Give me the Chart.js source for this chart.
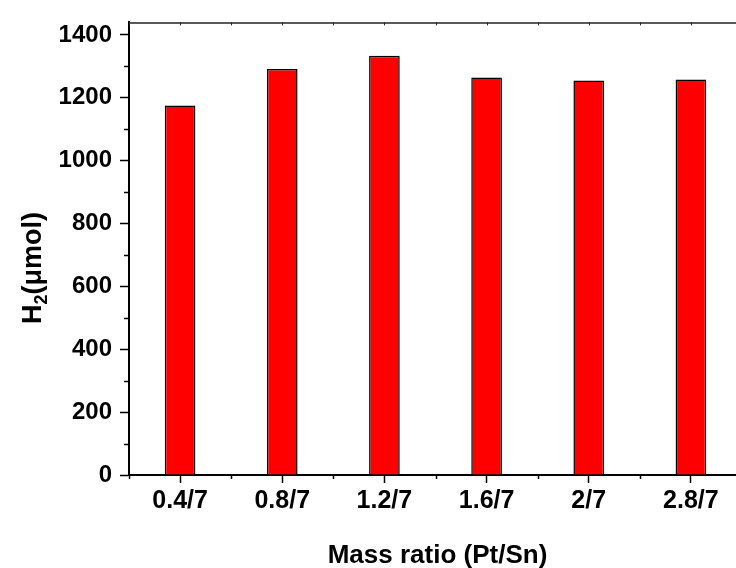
<!DOCTYPE html>
<html>
<head>
<meta charset="utf-8">
<script src="https://cdn.jsdelivr.net/npm/chart.js@4"></script>
<style>
  html, body { margin: 0; padding: 0; background: #fff; overflow: hidden; }
  #wrap { width: 746px; height: 568px; }
</style>
</head>
<body>
<div id="wrap"><canvas id="myChart" width="746" height="568"></canvas></div>
<script>
const ratios = ['0.4/7', '0.8/7', '1.2/7', '1.6/7', '2/7', '2.8/7'];
const h2 = [1176, 1292, 1334, 1265, 1255, 1258];
const yTicks = [0, 200, 400, 600, 800, 1000, 1200, 1400];
const yMinor = [100, 300, 500, 700, 900, 1100, 1300];
const yMax = 1440;

const fontFam = "'Liberation Sans', Arial, sans-serif";

// titles, minor ticks and the top frame line
const extras = {
  id: 'extras',
  afterDraw(chart) {
    const ctx = chart.ctx;
    const a = chart.chartArea;
    const x = chart.scales.x;
    const y = chart.scales.y;
    ctx.save();
    ctx.strokeStyle = '#000';
    ctx.lineWidth = 1.5;

    // minor y ticks
    yMinor.forEach(v => {
      const py = Math.round(y.getPixelForValue(v)) + 0.5;
      ctx.beginPath();
      ctx.moveTo(a.left - 5, py);
      ctx.lineTo(a.left, py);
      ctx.stroke();
    });

    // minor x ticks at category edges
    const half = (x.getPixelForValue(1) - x.getPixelForValue(0)) / 2;
    for (let i = 0; i <= ratios.length; i++) {
      const px = Math.round(x.getPixelForValue(i) - half) + 0.5;
      ctx.beginPath();
      ctx.moveTo(px, a.bottom);
      ctx.lineTo(px, a.bottom + 4);
      ctx.stroke();
    }

    // top line with small inward ticks
    ctx.strokeStyle = '#222';
    ctx.beginPath();
    ctx.moveTo(a.left, a.top + 0.5);
    ctx.lineTo(a.right, a.top + 0.5);
    ctx.stroke();
    ctx.lineWidth = 1;
    for (let i = 0; i < ratios.length; i++) {
      [x.getPixelForValue(i), x.getPixelForValue(i) - half].forEach(px => {
        ctx.beginPath();
        ctx.moveTo(Math.round(px) + 0.5, a.top);
        ctx.lineTo(Math.round(px) + 0.5, a.top + 3);
        ctx.stroke();
      });
    }

    // x title
    ctx.fillStyle = '#000';
    ctx.font = 'bold 26px ' + fontFam;
    ctx.textAlign = 'center';
    ctx.textBaseline = 'alphabetic';
    ctx.fillText('Mass ratio (Pt/Sn)', (a.left + a.right) / 2 + 2, 563);

    // y title with subscript
    ctx.translate(41, 268);
    ctx.rotate(-Math.PI / 2);
    const big = 'bold 27px ' + fontFam;
    const small = 'bold 18px ' + fontFam;
    ctx.font = big;
    const wH = ctx.measureText('H').width;
    const wRest = ctx.measureText('(\u03bcmol)').width;
    ctx.font = small;
    const w2 = ctx.measureText('2').width;
    let sx = -(wH + w2 + wRest) / 2;
    ctx.textAlign = 'left';
    ctx.font = big;
    ctx.fillText('H', sx, 0);
    sx += wH;
    ctx.font = small;
    ctx.fillText('2', sx, 6);
    sx += w2;
    ctx.font = big;
    ctx.fillText('(\u03bcmol)', sx, 0);
    ctx.restore();
  }
};

const ctx = document.getElementById('myChart').getContext('2d');
const myChart = new Chart(ctx, {
  type: 'bar',
  data: {
    labels: ratios,
    datasets: [{
      data: h2,
      backgroundColor: '#ff0000',
      borderColor: '#000',
      borderWidth: 1.5,
      borderSkipped: 'bottom',
      barPercentage: 0.3,
      categoryPercentage: 1
    }]
  },
  options: {
    responsive: false,
    animation: false,
    devicePixelRatio: 1,
    layout: { padding: { top: 20, right: 4, left: 0, bottom: 0 } },
    plugins: { legend: { display: false }, tooltip: { enabled: false } },
    scales: {
      x: {
        grid: { offset: false, drawOnChartArea: false, drawTicks: true, tickLength: 8, color: '#000', tickWidth: 1.5 },
        border: { color: '#000', width: 2 },
        ticks: { color: '#000', padding: 3, font: { family: fontFam, size: 25, weight: 'bold' }, maxRotation: 0 },
        afterFit(scale) { scale.height = 93; }
      },
      y: {
        min: 0,
        max: yMax,
        afterBuildTicks(scale) { scale.ticks = yTicks.map(v => ({ value: v })); },
        grid: { drawOnChartArea: false, drawTicks: true, tickLength: 9, color: '#000', tickWidth: 1.5 },
        border: { color: '#000', width: 2 },
        ticks: {
          color: '#000',
          padding: 8,
          font: { family: fontFam, size: 24, weight: 'bold' },
          callback: v => String(v)
        },
        afterFit(scale) { scale.width = 129; }
      }
    }
  },
  plugins: [extras]
});
</script>
</body>
</html>
